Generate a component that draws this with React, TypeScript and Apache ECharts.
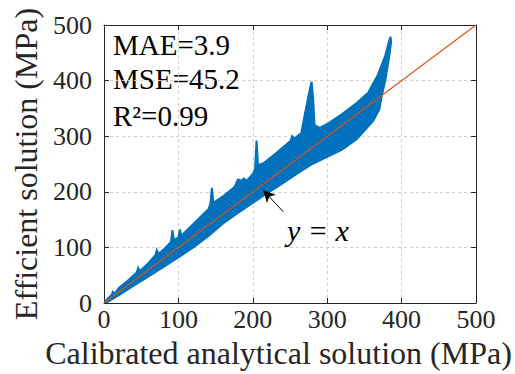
import React, { useEffect, useRef } from "react";
import * as echarts from "echarts";

// Axis ticks
const axisMin = 0;
const axisMax = 500;
const axisStep = 100;

// Upper envelope of the scatter cloud (left to right, including spikes)
const upperEnvelope: [number, number][] = [
  [0, 0], [5, 8], [10, 14], [12, 20], [14, 16], [20, 27], [30, 38],
  [44, 55], [46, 63], [48, 57], [60, 72],
  [69, 86], [71, 95], [73, 88], [80, 96],
  [90, 110], [92, 131], [94, 113], [100, 118], [102, 132], [104, 121],
  [120, 142], [130, 155], [140, 168], [143, 178], [145, 207], [147, 180], [160, 192],
  [175, 208], [180, 222], [185, 220], [188, 224], [192, 220], [200, 232],
  [203, 240], [205, 292], [207, 248], [215, 252], [230, 268], [245, 285],
  [251, 292], [253, 300], [256, 296], [265, 305],
  [270, 340], [276, 380], [279, 398], [281, 370], [283, 320], [290, 315],
  [300, 322], [320, 340], [340, 360], [355, 378], [368, 410], [378, 445], [383, 470], [385, 479],
];

// Right edge of the cloud (top to bottom)
const rightEdge: [number, number][] = [
  [386, 470], [383, 440], [378, 400], [373, 370], [370, 348],
];

// Lower envelope (right to left)
const lowerEnvelope: [number, number][] = [
  [362, 328], [350, 310], [340, 295], [320, 276], [300, 263], [280, 250], [260, 233],
  [240, 215], [220, 198], [200, 180], [180, 162], [160, 143], [140, 120], [120, 100],
  [100, 82], [80, 65], [60, 48], [40, 31], [20, 14], [5, 2], [0, 0],
];

// Reference line y = x
const identityLine: [number, number][] = [[0, 0], [500, 500]];

// Arrow pointing at the y = x line
const arrowFrom: [number, number] = [241, 164];
const arrowTo: [number, number] = [214, 203];

const metricLabels = ["MAE=3.9", "MSE=45.2", "R\u00B2=0.99"];
const lineLabel = "y = x";
const xTitle = "Calibrated analytical solution (MPa)";
const yTitle = "Efficient solution (MPa)";

const FONT = "Times New Roman, Liberation Serif, serif";
const AX = "#262626";

export default function App() {
  const ref = useRef<HTMLDivElement>(null);
  useEffect(() => {
    if (!ref.current) return;
    const chart = echarts.init(ref.current, undefined, { renderer: "svg" });
    const cloud = [...upperEnvelope, ...rightEdge, ...lowerEnvelope];

    const baseAxis = (pos: string, main: boolean, name?: string, gap?: number, pad?: number[]) => ({
      type: "value",
      min: axisMin,
      max: axisMax,
      interval: axisStep,
      position: pos,
      name: main ? name : undefined,
      nameLocation: "middle",
      nameGap: gap,
      nameTextStyle: { fontFamily: FONT, fontSize: 32, color: AX, padding: pad || 0 },
      axisLine: { show: true, onZero: false, lineStyle: { color: AX, width: 1 } },
      axisTick: { show: true, inside: true, length: 5, lineStyle: { color: AX, width: 1 } },
      axisLabel: main
        ? { show: true, fontFamily: FONT, fontSize: 26, color: AX, margin: pos === "left" ? 12 : 3 }
        : { show: false },
      splitLine: main
        ? { show: true, lineStyle: { color: "#d0d0d0", type: [3, 3], width: 1 } }
        : { show: false },
    });

    chart.setOption({
      animation: false,
      textStyle: { fontFamily: FONT },
      grid: { left: 104, right: 39, top: 25, bottom: 71, containLabel: false, outerBoundsMode: "none" },
      xAxis: [baseAxis("bottom", true, xTitle, 34, [0, 23, 0, 0]), baseAxis("top", false)],
      yAxis: [baseAxis("left", true, yTitle, 57), baseAxis("right", false)],
      series: [
        {
          type: "custom",
          xAxisIndex: 0,
          yAxisIndex: 0,
          clip: true,
          data: [[0, 0]],
          renderItem: (_params: any, api: any) => ({
            type: "polygon",
            shape: { points: cloud.map((p) => api.coord(p)) },
            style: { fill: "#0072BD", stroke: "#0072BD", lineWidth: 2 },
          }),
        },
        {
          type: "line",
          xAxisIndex: 0,
          yAxisIndex: 0,
          data: identityLine,
          symbol: "none",
          lineStyle: { color: "#D95319", width: 1.2 },
          markLine: {
            silent: true,
            symbol: ["none", "arrow"],
            symbolSize: [9, 12],
            label: { show: false },
            lineStyle: { color: "#000", width: 1, type: "solid" },
            data: [[{ coord: arrowFrom }, { coord: arrowTo }]],
          },
        },
      ],
      graphic: [
        ...metricLabels.map((t, i) => ({
          type: "text",
          left: 113,
          top: [30, 64, 101][i],
          style: { text: t, fontFamily: FONT, fontSize: 29, fill: "#000" },
        })),
        {
          type: "text",
          left: 287,
          top: 215,
          style: { text: lineLabel, fontFamily: FONT, fontSize: 30, fontStyle: "italic", fill: "#000" },
        },
      ],
    });
    return () => chart.dispose();
  }, []);
  return (
    <div
      ref={ref}
      style={{ position: "fixed", left: 0, top: 0, width: 515, height: 374, background: "#fff" }}
    />
  );
}
